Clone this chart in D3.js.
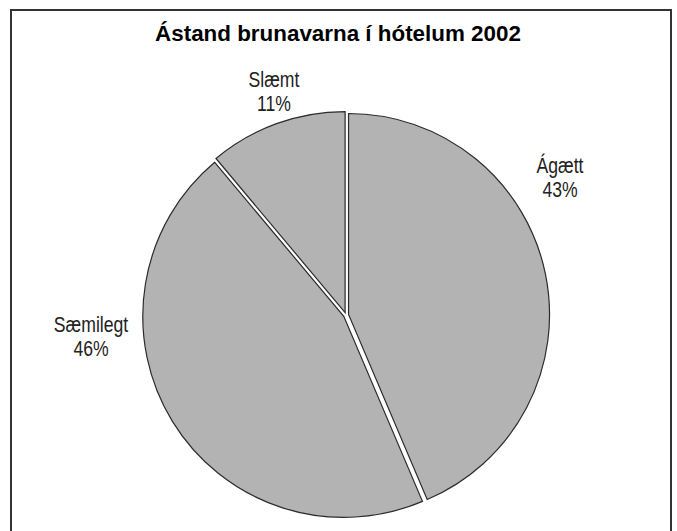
<!DOCTYPE html>
<html>
<head>
<meta charset="utf-8">
<script src="https://cdn.jsdelivr.net/npm/d3@7"></script>
<style>
    body { margin: 0; background: #fff; }
    .title { font-family: "Liberation Sans", Arial, sans-serif; font-weight: bold; font-size: 22.4px; }
    .label { font-family: "Liberation Sans", Arial, sans-serif; font-size: 22px; fill: #222; }
</style>
</head>
<body>
<svg id="chart"></svg>
<script>
'use strict';

var width = 677, height = 531;

var titleText = 'Ástand brunavarna í hótelum 2002';
var categories = ['Ágætt', 'Sæmilegt', 'Slæmt'];
// slice sizes
var values = [43.6, 45.3, 11.1];
// percentages as printed on the chart
var pctLabels = ['43%', '46%', '11%'];

// label anchors, as [dx, dy] from pie centre (layout only)
var labelPos = [[214, -142], [-255, 17], [-72, -228]];

var svg = d3.select('#chart').attr('width', width).attr('height', height);

// frame
svg.append('rect')
    .attr('x', 11).attr('y', 10)
    .attr('width', 660).attr('height', 540)
    .attr('fill', 'none').attr('stroke', '#333').attr('stroke-width', 2);

svg.append('text').attr('class', 'title')
    .attr('x', 338).attr('y', 41)
    .attr('text-anchor', 'middle')
    .text(titleText);

var cx = 346, cy = 315, radius = 201, explode = 2.6;

var data = categories.map(function (c, i) { return { name: c, value: values[i], pct: pctLabels[i] }; });

var pie = d3.pie().sort(null).value(function (d) { return d.value; });
var arc = d3.arc().innerRadius(0).outerRadius(radius);

var g = svg.append('g').attr('transform', 'translate(' + cx + ',' + cy + ')');

g.selectAll('path.slice')
    .data(pie(data))
    .enter().append('path')
    .attr('class', 'slice')
    .attr('d', arc)
    .attr('transform', function (d) {
        var a = (d.startAngle + d.endAngle) / 2;
        return 'translate(' + (Math.sin(a) * explode) + ',' + (-Math.cos(a) * explode) + ')';
    })
    .attr('fill', '#b3b3b3')
    .attr('stroke', '#2b2b2b')
    .attr('stroke-width', 1.2)
    .attr('stroke-linejoin', 'miter');

// condensed look: squeeze the regular face horizontally
var lab = g.selectAll('text.label')
    .data(pie(data))
    .enter().append('text')
    .attr('class', 'label')
    .attr('text-anchor', 'middle')
    .attr('transform', function (d, i) { return 'translate(' + labelPos[i] + ') scale(0.8,1)'; });

lab.append('tspan').attr('x', 0).attr('y', 0).text(function (d) { return d.data.name; });
lab.append('tspan').attr('x', 0).attr('y', 24).text(function (d) { return d.data.pct; });
</script>
</body>
</html>
